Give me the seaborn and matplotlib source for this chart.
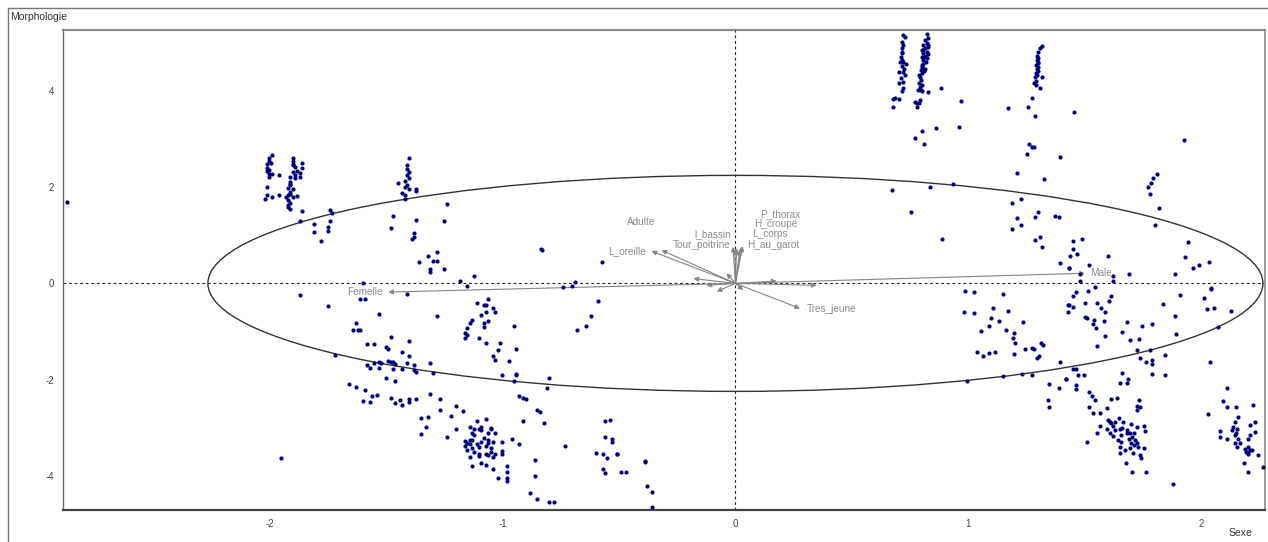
import numpy as np
import pandas as pd
import matplotlib
matplotlib.use("Agg")
import matplotlib.pyplot as plt
from matplotlib.patches import Ellipse
from matplotlib.lines import Line2D
import seaborn as sns

# ---------------------------------------------------------------
# Individual scores on the two axes (Sexe, Morphologie)
# ---------------------------------------------------------------
femelle_x = [
    -2.87,
    -1.99, -2.00, -2.00, -2.01, -2.01, -2.01, -2.00, -1.99, -1.96, -2.01, -2.01, -2.02, -1.99, -1.96, -2.00, -1.995, -2.00,
    -1.90, -1.90, -1.90, -1.89, -1.88, -1.90, -1.87, -1.91, -1.89, -1.87, -1.91, -1.91, -1.92, -1.91, -1.92, -1.90,
    -1.88, -1.93, -1.92, -1.91, -1.92, -1.91, -1.86, -1.86, -1.86, -1.87, -1.90, -1.89, -1.91, -1.90, -1.91, -1.92,
    -1.74, -1.73, -1.74, -1.81, -1.75, -1.75, -1.81, -1.78,
    -1.40, -1.41, -1.40, -1.41, -1.40, -1.42, -1.45, -1.42, -1.40, -1.37, -1.37, -1.42, -1.42, -1.47, -1.48, -1.37,
    -1.38, -1.38, -1.39, -1.41, -1.41, -1.43,
    -1.24, -1.25, -1.32, -1.28, -1.30, -1.28, -1.36, -1.31, -1.31, -1.25,
    -1.60, -1.61, -1.59, -1.87, -1.75, -1.41, -1.53, -1.28, -1.63, -1.64, -1.62, -1.61,
    -1.58, -1.55, -1.48, -1.50, -1.49, -1.40, -1.43, -1.40, -1.72, -1.58, -1.57, -1.55, -1.53, -1.52, -1.53, -1.49,
    -1.48, -1.47, -1.46, -1.47, -1.43, -1.41, -1.38, -1.38, -1.37, -1.31, -1.30, -1.66, -1.63, -1.59, -1.56, -1.54,
    -1.50, -1.46, -1.48, -1.44, -1.40, -1.43, -1.46, -1.40, -1.37, -1.60, -1.57, -1.31, -1.27, -1.27, -1.20, -1.22,
    -1.35, -1.32,
    -0.835, -0.83, -1.12, -0.574, -1.18, -1.15, -0.74, -0.70, -0.69, -0.59, -0.62, -0.64, -0.68,
    -1.06, -1.07, -1.08, -1.11, -1.04, -1.03, -1.07, -1.09, -1.06, -1.08, -1.08, -1.13, -1.14, -1.15, -1.16, -1.15,
    -1.16, -1.10, -1.07, -1.01, -1.02, -1.04, -1.03, -0.97, -1.00, -0.94, -0.94, -0.95, -0.95, -0.94,
    -1.35, -1.33, -1.24, -1.20, -1.95, -1.17, -0.93, -0.91, -0.90, -0.85, -0.84, -0.80, -0.81, -0.82, -0.91, -0.93,
    -0.96, -0.86, -0.86, -0.88, -0.85, -0.80, -0.78, -0.73, -0.56, -0.54, -0.56, -0.53, -0.53, -0.60, -0.57, -0.55,
    -0.51, -0.51, -0.57, -0.56, -0.49, -0.47, -0.39, -0.39, -0.38, -0.36, -0.36,
    -1.11, -1.07, -1.14, -1.10, -1.09, -1.05, -1.05, -1.03, -1.13, -1.16, -1.15, -1.14, -1.13, -1.11, -1.16, -1.15,
    -1.13, -1.06, -1.06, -1.04, -1.00, -1.05, -1.05, -1.07, -1.06, -1.03, -1.00, -1.00, -1.10, -1.10, -1.14, -1.13,
    -1.09, -1.07, -1.04, -0.98, -0.98, -0.98, -0.98, -1.02, -1.12, -1.09, -1.14,
    -1.12, -1.08, -1.10, -1.07, -1.12, -1.04, -1.09, -1.06,
]
femelle_y = [
    1.68,
    2.66, 2.60, 2.54, 2.47, 2.40, 2.33, 2.26, 2.27, 2.24, 1.99, 1.84, 1.74, 1.80, 1.84, 2.20, 2.50, 2.36,
    2.61, 2.54, 2.48, 2.41, 2.34, 2.32, 2.28, 2.21, 2.19, 2.20, 2.11, 2.04, 1.97, 1.90, 1.83, 1.80,
    1.81, 1.80, 1.73, 1.66, 1.59, 1.54, 2.50, 2.40, 1.50, 1.29, 2.45, 2.25, 2.07, 1.95, 1.85, 1.62,
    1.53, 1.47, 1.30, 1.24, 1.17, 1.09, 1.06, 0.88,
    2.59, 2.37, 2.32, 2.25, 2.18, 2.13, 2.09, 2.00, 1.95, 1.95, 1.92, 1.83, 1.74, 1.40, 1.15, 1.31,
    1.04, 0.97, 0.92, 2.45, 2.05, 1.88,
    1.64, 1.29, 0.57, 0.66, 0.47, 0.47, 0.45, 0.29, 0.24, 0.30,
    0.01, -0.33, -0.33, -0.24, -0.46, -0.21, -0.64, -0.67, -0.82, -0.97, -0.97, -0.96,
    -1.26, -1.26, -1.11, -1.31, -1.36, -1.20, -1.42, -1.51, -1.49, -1.70, -1.75, -1.65, -1.63, -1.65, -1.75, -1.61,
    -1.63, -1.63, -1.67, -1.77, -1.78, -1.66, -1.70, -1.80, -1.83, -1.66, -1.85, -2.09, -2.15, -2.21, -2.34, -2.31,
    -1.96, -2.02, -2.37, -2.41, -2.39, -2.52, -2.49, -2.46, -2.39, -2.44, -2.46, -2.30, -2.39, -2.63, -2.54, -2.75,
    -2.80, -2.77,
    0.71, 0.69, 0.15, 0.45, 0.05, -0.06, -0.07, -0.06, 0.03, -0.36, -0.67, -0.88, -0.97,
    -0.33, -0.45, -0.45, -0.41, -0.52, -0.59, -0.60, -0.66, -0.78, -0.82, -0.91, -0.75, -0.82, -0.93, -1.02, -1.07,
    -1.14, -1.14, -1.23, -1.24, -1.38, -1.51, -1.59, -1.61, -1.90, -1.89, -1.88, -2.03, -0.88, -1.36,
    -3.13, -2.97, -3.18, -3.03, -3.63, -2.64, -2.33, -2.37, -2.39, -2.63, -2.66, -1.96, -2.18, -2.89, -2.85, -3.33,
    -3.23, -3.67, -3.99, -4.34, -4.47, -4.54, -4.54, -3.37, -2.85, -2.84, -3.18, -3.23, -3.30, -3.51, -3.54, -3.63,
    -3.53, -3.54, -3.84, -3.94, -3.92, -3.92, -3.68, -3.70, -4.20, -4.32, -4.63,
    -2.85, -2.82, -2.97, -3.01, -3.04, -2.99, -3.03, -3.10, -3.10, -3.27, -3.32, -3.24, -3.25, -3.33, -3.37, -3.46,
    -3.42, -3.24, -3.32, -3.30, -3.28, -3.42, -3.49, -3.53, -3.56, -3.53, -3.53, -3.47, -3.53, -3.58, -3.60, -3.78,
    -3.72, -3.77, -3.84, -3.78, -3.91, -4.03, -4.10, -4.03, -3.03, -2.97, -3.33,
    -3.15, -3.20, -3.40, -3.38, -3.50, -3.60, -3.28, -3.10,
]

male_x = [
    0.720, 0.730, 0.717, 0.720, 0.713, 0.713, 0.717, 0.710, 0.713, 0.706, 0.720, 0.732, 0.703, 0.720, 0.727, 0.700,
    0.720, 0.717, 0.677, 0.685, 0.700, 0.677, 0.715, 0.710, 0.725, 0.718,
    0.821, 0.828, 0.813, 0.821, 0.806, 0.828, 0.813, 0.803, 0.821, 0.806, 0.828, 0.813, 0.799, 0.821, 0.806, 0.818,
    0.803, 0.799, 0.796, 0.799, 0.792, 0.796, 0.789, 0.792, 0.796, 0.785, 0.799, 0.828, 0.792, 0.770, 0.778, 0.789,
    0.780, 0.799, 0.770, 0.810, 0.863, 0.882, 0.968, 0.958, 0.800, 0.810, 0.790, 0.800, 0.810, 0.800, 0.825, 0.815,
    1.314, 1.307, 1.297, 1.293, 1.300, 1.293, 1.297, 1.290, 1.300, 1.293, 1.290, 1.296, 1.318, 1.285, 1.281, 1.290,
    1.307, 1.275, 1.257, 1.285, 1.168, 1.261, 1.275, 1.281, 1.250, 1.210, 1.326, 1.393, 1.188, 1.227, 1.207, 1.227,
    1.188, 1.285, 1.297, 1.285, 1.307, 1.318, 1.371, 1.388, 1.393, 1.430, 0.670, 0.753, 0.834, 0.935, 0.888,
    1.300, 1.290, 1.300,
    1.454, 1.925, 1.808, 1.793, 1.782, 1.769, 1.779, 1.816, 1.803, 1.941, 1.928, 1.962, 1.991, 2.032, 1.886, 1.450,
    1.488, 1.447, 1.438, 1.467, 1.431, 1.517, 1.600, 1.479, 1.621, 1.690, 1.621, 1.481, 1.543, 2.041,
    0.985, 1.024, 1.147, 0.982, 1.024, 1.107, 1.168, 1.097, 1.089, 1.131, 1.052, 1.160, 1.197, 1.192, 1.202, 1.235,
    1.039, 1.061, 1.089, 1.114, 1.197, 1.242, 1.271, 1.281, 1.310, 1.321, 1.293, 1.303, 1.393, 0.992, 1.147, 1.231,
    1.275, 1.347, 1.390, 1.417, 1.343, 1.347, 1.428, 1.428,
    1.462, 1.515, 1.614, 1.448, 1.433, 1.448, 1.500, 1.550, 1.604, 1.569, 1.586, 1.500, 1.508, 1.540, 1.583, 1.533,
    1.547, 1.586, 1.554, 1.679, 1.661, 1.693, 1.733, 1.746, 1.786, 1.886, 1.893, 1.836, 1.907, 2.010, 2.041, 2.026,
    2.054, 2.127, 2.073, 1.725, 1.779, 1.736, 1.762, 1.786, 1.790, 1.843, 1.786, 1.843, 2.036, 1.448, 1.462, 1.419,
    1.472, 1.496, 1.462, 1.462, 1.661, 1.650, 1.679, 1.686, 1.519, 1.529, 1.543, 1.519, 1.536, 1.564, 1.597, 1.614,
    1.639, 1.733, 1.725, 1.736, 1.722, 1.600, 1.607, 1.614, 1.629, 1.647, 1.664, 1.564, 1.593, 1.607, 1.622, 1.554,
    1.629, 1.650, 1.657, 1.657, 1.650, 1.650, 1.679, 1.693, 1.710, 1.704, 1.714, 1.722, 1.753, 1.757, 1.700, 1.722,
    1.729, 1.693, 1.707, 1.736, 1.753, 1.739, 1.676, 1.704, 1.762, 1.511, 1.879, 2.029, 2.112, 2.094, 2.109, 2.149,
    2.221, 2.156, 2.144, 2.137, 2.152, 2.144, 2.159, 2.144, 2.152, 2.080, 2.080, 2.109, 2.166, 2.207, 2.231, 2.231,
    2.210, 2.202, 2.188, 2.207, 2.202, 2.217, 2.202, 2.243, 2.185, 2.202, 2.263,
    1.620, 1.660, 1.690, 1.710, 1.670, 1.640, 1.700, 1.680, 2.130, 2.150, 2.190, 2.200,
]
male_y = [
    5.15, 5.11, 5.01, 4.94, 4.88, 4.80, 4.78, 4.70, 4.63, 4.60, 4.60, 4.56, 4.39, 4.39, 4.32, 4.15,
    4.18, 3.98, 3.82, 3.84, 3.82, 3.65, 4.50, 4.25, 4.45, 4.05,
    5.17, 5.08, 5.05, 4.98, 4.94, 4.91, 4.88, 4.84, 4.80, 4.77, 4.76, 4.72, 4.70, 4.67, 4.63, 4.60,
    4.56, 4.49, 4.43, 4.36, 4.29, 4.22, 4.15, 4.08, 4.01, 4.01, 3.98, 3.96, 3.80, 3.77, 3.75, 3.75,
    3.65, 3.17, 3.01, 2.89, 3.22, 4.05, 3.78, 3.24, 4.52, 4.40, 4.32, 4.12, 4.70, 4.85, 4.95, 4.45,
    4.93, 4.88, 4.80, 4.72, 4.67, 4.63, 4.58, 4.53, 4.48, 4.44, 4.36, 4.32, 4.27, 4.29, 4.15, 4.11,
    4.06, 3.84, 3.65, 3.48, 3.63, 2.89, 2.83, 2.82, 2.68, 2.29, 2.16, 2.63, 1.67, 1.74, 1.35, 1.21,
    1.12, 1.37, 1.49, 0.89, 0.97, 0.76, 1.39, 1.38, 0.43, 0.31, 1.94, 1.48, 1.99, 2.07, 0.93,
    4.40, 4.20, 4.60,
    3.56, 2.97, 2.26, 2.18, 2.09, 2.00, 1.85, 1.57, 1.21, 0.86, 0.55, 0.31, 0.39, 0.45, 0.19, 0.88,
    0.93, 0.71, 0.57, 0.61, 0.31, 0.39, 0.57, 0.19, 0.16, 0.19, 0.05, 0.05, -0.08, -0.09,
    -0.15, -0.17, -0.22, -0.60, -0.62, -0.52, -0.57, -0.71, -0.88, -0.78, -0.99, -0.97, -1.02, -1.14, -1.24, -0.81,
    -1.42, -1.51, -1.45, -1.43, -1.47, -1.36, -1.35, -1.36, -1.24, -1.27, -1.54, -1.51, -1.64, -2.03, -1.92, -1.88,
    -1.90, -2.09, -2.18, -1.99, -2.42, -2.57, -0.60, -0.45,
    -0.17, -0.15, -0.26, -0.26, -0.45, -0.48, -0.41, -0.41, -0.37, -0.52, -0.59, -0.69, -0.71, -0.76, -0.78, -0.85,
    -0.93, -1.09, -1.30, -0.81, -1.00, -1.18, -1.16, -0.88, -0.84, -0.67, -1.04, -0.43, -0.24, -0.30, -0.12, -0.54,
    -0.52, -0.57, -0.90, -1.38, -1.38, -1.54, -1.63, -1.68, -1.58, -1.49, -1.88, -1.90, -1.64, -1.78, -1.77, -1.99,
    -1.90, -1.89, -2.11, -2.20, -1.85, -2.07, -2.06, -1.99, -2.26, -2.34, -2.41, -2.57, -2.68, -2.68, -2.58, -2.39,
    -2.37, -2.41, -2.55, -2.56, -2.63, -2.84, -2.87, -2.90, -2.87, -2.80, -2.87, -2.96, -3.01, -3.11, -3.17, -3.11,
    -3.04, -3.03, -3.15, -3.29, -3.39, -3.51, -3.04, -3.10, -3.11, -3.18, -3.25, -2.97, -2.96, -3.06, -3.32, -3.32,
    -3.39, -3.42, -3.51, -3.56, -3.42, -3.63, -3.72, -3.91, -3.91, -3.29, -4.16, -2.71, -2.17, -2.44, -2.57, -2.57,
    -2.52, -2.77, -2.87, -2.97, -3.03, -3.15, -3.22, -3.32, -3.40, -3.06, -3.18, -3.22, -3.32, -2.94, -2.87, -3.08,
    -3.15, -3.22, -3.44, -3.46, -3.49, -3.46, -3.53, -3.56, -3.72, -3.91, -3.80,
    -2.95, -3.00, -3.22, -3.35, -3.45, -3.25, -2.92, -3.10, -3.05, -3.10, -3.50, -3.40,
]

# ---------------------------------------------------------------
# Variable arrows (correlations scaled on the same axes)
# ---------------------------------------------------------------
var_names = ["Male", "Femelle", "Tres_jeune", "L_oreille", "Adulte", "l_bassin",
             "Tour_poitrine", "P_thorax", "H_croupe", "L_corps", "H_au_garot"]
var_x = [1.50, -1.49, 0.277, -0.36, -0.317, -0.01, -0.002, 0.031, 0.027, 0.019, 0.005]
var_y = [0.21, -0.18, -0.52, 0.67, 0.69, 0.76, 0.71, 0.77, 0.76, 0.69, 0.73]
label_x = [1.522, -1.513, 0.306, -0.385, -0.405, -0.02, -0.02, 0.191, 0.175, 0.147, 0.05]
label_y = [0.21, -0.18, -0.54, 0.67, 1.27, 1.02, 0.79, 1.44, 1.23, 1.02, 0.79]
label_ha = ["left", "right", "left", "right", "center", "right", "right",
            "center", "center", "center", "left"]

# short, unlabelled arrows near the origin
minor_x = [-0.18, -0.124, -0.08, -0.038, 0.034, 0.177, 0.348]
minor_y = [0.10, -0.04, -0.17, 0.21, -0.14, 0.05, -0.04]

# correlation ellipse half-axes
ellipse_a = 2.264
ellipse_b = 2.24

# ---------------------------------------------------------------
sns.set_style("white")
plt.rcParams["font.family"] = ["Liberation Sans", "DejaVu Sans"]
plt.rcParams["axes.unicode_minus"] = False

W, H = 1268, 542
fig = plt.figure(figsize=(W / 100, H / 100), dpi=100)
fig.patch.set_facecolor("white")
ax = fig.add_axes([63 / W, 1 - 510 / H, (1265 - 63) / W, (510 - 30) / H])

pts = pd.DataFrame({
    "Sexe": femelle_x + male_x,
    "Morphologie": femelle_y + male_y,
})

ax.axhline(0, color="#222222", lw=0.8, ls=(0, (2.5, 2.5)), zorder=1)
ax.axvline(0, color="#222222", lw=0.8, ls=(0, (2.5, 2.5)), zorder=1)

ax.add_patch(Ellipse((0, 0), 2 * ellipse_a, 2 * ellipse_b, fill=False,
                     edgecolor="#333333", lw=1.0, zorder=2))

arrow_kw = dict(arrowstyle="-|>", color="#858585", lw=0.8, mutation_scale=7,
                shrinkA=0, shrinkB=0)
for mx, my in zip(minor_x, minor_y):
    ax.annotate("", xy=(mx, my), xytext=(0, 0), arrowprops=arrow_kw, zorder=3)
for vx, vy in zip(var_x, var_y):
    ax.annotate("", xy=(vx, vy), xytext=(0, 0), arrowprops=arrow_kw, zorder=3)
for name, lx, ly, ha in zip(var_names, label_x, label_y, label_ha):
    ax.text(lx, ly, name, ha=ha, va="center", fontsize=7.2, color="#8c8c8c", zorder=4)

sns.scatterplot(data=pts, x="Sexe", y="Morphologie", color="#00007a", s=9,
                linewidth=0, ax=ax, zorder=5, legend=False)

ax.set_xlim(-2.886, 2.273)
ax.set_ylim(-4.70, 5.255)
ax.set_xticks([-2, -1, 0, 1, 2])
ax.set_yticks([-4, -2, 0, 2, 4])
ax.set_xlabel("")
ax.set_ylabel("")
ax.tick_params(axis="both", direction="out", length=3.5, width=0.8,
               colors="#555555", labelsize=7, pad=3)
ax.tick_params(axis="x", labelcolor="#444444")
ax.tick_params(axis="y", labelcolor="#444444")

for side, col, lw in [("top", "#8a8a8a", 1.6), ("right", "#8a8a8a", 1.2),
                      ("left", "#666666", 1.0), ("bottom", "#444444", 1.6)]:
    ax.spines[side].set_visible(True)
    ax.spines[side].set_color(col)
    ax.spines[side].set_linewidth(lw)

# titles of the two axes
fig.text(10 / W, 1 - 17 / H, "Morphologie", ha="left", va="center",
         fontsize=7.5, color="#333333")
fig.text(1241 / W, 1 - 533 / H, "Sexe", ha="center", va="center",
         fontsize=7.5, color="#333333")

# outer frame of the panel
fig.add_artist(Line2D([8 / W, 8 / W], [0, 1 - 8 / H], transform=fig.transFigure,
                      color="#777777", lw=1.0))
fig.add_artist(Line2D([8 / W, 1], [1 - 8 / H, 1 - 8 / H], transform=fig.transFigure,
                      color="#777777", lw=1.0))

fig.savefig("out.png", dpi=100, facecolor="white")
